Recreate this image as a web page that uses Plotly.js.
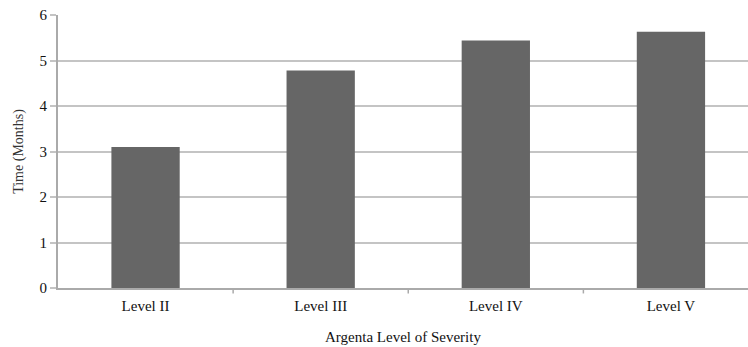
<!DOCTYPE html>
<html><head><meta charset="utf-8">
<script src="https://cdn.plot.ly/plotly-3.0.1.min.js"></script>
<style>html,body{margin:0;padding:0;background:#fff}</style>
</head><body>
<div id="chart" style="width:748px;height:347px"></div>
<script>
const categories = ["Level II", "Level III", "Level IV", "Level V"];
const timeMonths = [3.1, 4.78, 5.44, 5.63];
const yTicks = [0, 1, 2, 3, 4, 5, 6];

const data = [{
  type: "bar",
  x: categories,
  y: timeMonths,
  marker: {color: "#666666", line: {width: 0}},
  width: 0.39,
  hoverinfo: "x+y"
}];

const layout = {
  width: 748, height: 347,
  margin: {l: 58, r: 0, t: 15, b: 59},
  paper_bgcolor: "#ffffff", plot_bgcolor: "#ffffff",
  font: {family: "Liberation Serif, Times New Roman, serif", color: "#111111", size: 13},
  showlegend: false,
  bargap: 0.6,
  xaxis: {
    type: "category",
    range: [-0.5, 3.44],
    showgrid: false,
    showline: true, linecolor: "#aaaaaa", linewidth: 2,
    ticks: "outside", ticklen: 3, tickcolor: "#ffffff", tickwidth: 0,
    tickfont: {size: 15, color: "#111111"},
    title: {text: "Argenta Level of Severity", font: {size: 15, color: "#111111"}, standoff: 18},
    zeroline: false,
    fixedrange: true
  },
  yaxis: {
    range: [0, 6],
    tickvals: yTicks,
    showgrid: true, gridcolor: "#c4c4c4", gridwidth: 2,
    showline: true, linecolor: "#aaaaaa", linewidth: 2,
    ticks: "outside", ticklen: 6, tickcolor: "#c4c4c4", tickwidth: 2,
    tickfont: {size: 15, color: "#111111"},
    title: {text: "Time (Months)", font: {size: 14, color: "#333333"}, standoff: 13},
    zeroline: false,
    fixedrange: true
  },
  shapes: [1, 2, 3].map(i => ({
    type: "line", xref: "x", yref: "paper",
    x0: i - 0.5, x1: i - 0.5, y0: 0, y1: -0.02,
    line: {color: "#aaaaaa", width: 1.5}
  }))
};

Plotly.newPlot("chart", data, layout, {displayModeBar: false, staticPlot: true});
</script>
</body></html>
